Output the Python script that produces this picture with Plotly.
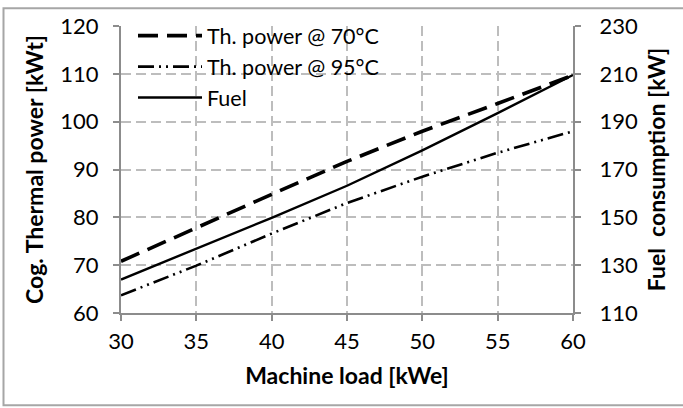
import plotly.graph_objects as go

# ---- data ----
load_kwe = [30, 35, 40, 45, 50, 55, 60]
th_power_70 = [70.8, 77.9, 84.8, 91.7, 98.0, 103.8, 109.7]
th_power_95 = [63.7, 69.9, 76.6, 83.0, 88.5, 93.5, 98.0]
fuel_kw = [124.0, 137.0, 149.8, 163.2, 178.0, 193.6, 209.5]

x_ticks = [30, 35, 40, 45, 50, 55, 60]
left_ticks = [60, 70, 80, 90, 100, 110, 120]
right_ticks = [110, 130, 150, 170, 190, 210, 230]

FONT = "Lato"
W, H = 683, 408
L, R, T, B = 121, 110, 22, 95

fig = go.Figure()
fig.add_trace(go.Scatter(x=load_kwe, y=th_power_70, mode="lines",
                         name="Th. power @ 70°C",
                         line=dict(color="black", width=3.6, dash="20px,9px")))
fig.add_trace(go.Scatter(x=load_kwe, y=th_power_95, mode="lines",
                         name="Th. power @ 95°C",
                         line=dict(color="black", width=2.6,
                                   dash="16px,5px,2px,5px,2px,5px")))
fig.add_trace(go.Scatter(x=load_kwe, y=fuel_kw, mode="lines", name="Fuel",
                         yaxis="y2",
                         line=dict(color="black", width=2.4)))

grid = dict(showgrid=True, gridcolor="#bdbdbd", gridwidth=2, griddash="10px,5px")
axline = dict(showline=True, linecolor="#8c8c8c", linewidth=2,
              ticks="outside", ticklen=6, tickcolor="#8c8c8c", tickwidth=1.5)

pw = W - L - R
ph = H - T - B

fig.update_layout(
    width=W, height=H,
    margin=dict(l=L, r=R, t=T, b=B),
    paper_bgcolor="white", plot_bgcolor="white",
    font=dict(family=FONT, size=22, color="black"),
    showlegend=True,
    legend=dict(x=(133 - L) / pw, y=1 - (11 - T) / ph, xanchor="left", yanchor="top",
                bgcolor="rgba(255,255,255,0)", borderwidth=0,
                font=dict(family=FONT, size=21.5, color="black"),
                itemwidth=64, tracegroupgap=0),
    xaxis=dict(range=[30, 60], tickvals=x_ticks, ticktext=[str(v) for v in x_ticks],
               ticklabelstandoff=2,
               title=dict(text="<b>Machine load [kWe]</b>", font=dict(size=23), standoff=14),
               zeroline=False, **grid, **axline),
    yaxis=dict(range=[60, 120], tickvals=left_ticks, ticktext=[str(v) for v in left_ticks],
               ticklabelstandoff=10,
               title=dict(text="<b>Cog. Thermal power [kWt]</b>", font=dict(size=23), standoff=10),
               zeroline=False, **grid, **axline),
    yaxis2=dict(range=[110, 230], tickvals=right_ticks, ticktext=[str(v) for v in right_ticks],
                overlaying="y", side="right", ticklabelstandoff=14,
                title=dict(text="<b>Fuel\u00a0 consumption [kW]</b>", font=dict(size=23), standoff=12),
                showgrid=False, zeroline=False, **axline),
)

# outer chart border
fig.add_shape(type="rect", xref="paper", yref="paper",
              x0=(3.5 - L) / pw, x1=(690 - L) / pw,
              y0=1 - (406.5 - T) / ph, y1=1 - (4 - T) / ph,
              line=dict(color="#a6a6a6", width=2), fillcolor="rgba(0,0,0,0)", layer="below")

fig.write_html("out.html")
